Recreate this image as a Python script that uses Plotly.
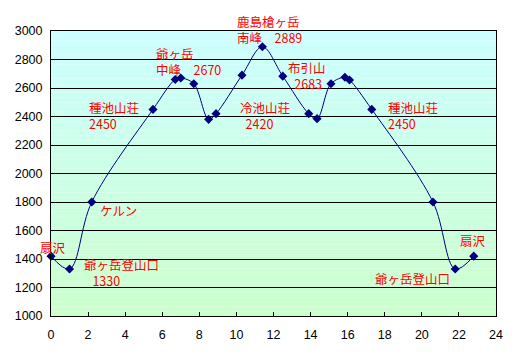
import plotly.graph_objects as go

# Distance and elevation (m)
dist = [0, 1.0, 2.2, 5.5, 6.7, 7.0, 7.7, 8.5, 8.9, 10.3, 11.4, 12.5, 13.9, 14.35,
        15.1, 15.85, 16.1, 17.3, 20.6, 21.8, 22.8]
elev = [1420, 1330, 1800, 2450, 2660, 2670, 2630, 2380, 2420, 2690, 2889, 2683,
        2420, 2385, 2630, 2675, 2656, 2450, 1800, 1330, 1420]

# Labels: (point index, text)
label_points = [0, 1, 2, 3, 5, 10, 8, 11, 17, 20, 19]
label_texts = ["扇沢", "爺ヶ岳登山口<br>\u00a0\u00a0\u00a01330", "ケルン", "種池山荘<br>2450",
               "爺ヶ岳<br>中峰　2670", "鹿島槍ヶ岳<br>南峰　2889",
               "冷池山荘<br>\u00a0\u00a02420", "布引山<br>\u00a02683", "種池山荘<br>2450",
               "扇沢", "爺ヶ岳登山口"]
# placement (style): anchor and pixel offset from point (right, down)
label_anchor = ["center", "left", "center", "left", "left", "left", "left", "center",
                "left", "center", "center"]
label_offsets = [(2, -8.7), (12, 3.2), (26.4, 8), (-66, 6.1), (-26.6, -16.6),
                 (-27.3, -17.6), (22, 1.8), (23.8, -0.7), (13.9, 6.1),
                 (-1, -15.5), (-42.3, 9.3)]

x_ticks = list(range(0, 25, 2))
y_ticks = list(range(1000, 3001, 200))

fig = go.Figure()

# vertical gradient background (cyan -> light green)
n = 60
top = (0xCC, 0xFF, 0xFF)
bot = (0xCC, 0xFF, 0xCC)
shapes = []
for i in range(n):
    t = (i + 0.5) / n
    c = tuple(round(bot[k] + (top[k] - bot[k]) * t) for k in range(3))
    shapes.append(dict(type="rect", xref="x domain", yref="y domain",
                       x0=0, x1=1, y0=i / n, y1=(i + 1) / n,
                       fillcolor="rgb(%d,%d,%d)" % c, line=dict(width=0), layer="below"))
fig.update_layout(shapes=shapes)

fig.add_trace(go.Scatter(
    x=dist, y=elev, mode="lines+markers",
    line=dict(color="#000080", width=1, shape="spline", smoothing=1),
    marker=dict(symbol="diamond", size=7, color="#000080"),
    cliponaxis=False, showlegend=False, hoverinfo="x+y"))

anns = []
for idx, txt, anc, (dx, dy) in zip(label_points, label_texts, label_anchor, label_offsets):
    anns.append(dict(x=dist[idx], y=elev[idx], xref="x", yref="y", text=txt,
                     showarrow=False, xanchor=anc, yanchor="middle", align=anc,
                     xshift=dx, yshift=-dy,
                     font=dict(family="Noto Sans CJK JP", size=12.5, color="#FF0000")))
fig.update_layout(annotations=anns)

fig.update_xaxes(range=[0, 24], tickvals=x_ticks, showgrid=False, zeroline=False,
                 showline=True, linecolor="black", linewidth=1, mirror=True,
                 ticks="inside", ticklen=4, tickcolor="black",
                 ticklabelstandoff=7, automargin=False,
                 tickfont=dict(family="Liberation Sans, Arial", size=12.5, color="black"))
fig.update_yaxes(range=[1000, 3000], tickvals=y_ticks, showgrid=True, gridcolor="black",
                 gridwidth=1, zeroline=False, showline=True, linecolor="black", linewidth=1,
                 mirror=True, ticks="", ticklabelstandoff=5, automargin=False,
                 tickfont=dict(family="Liberation Sans, Arial", size=12.5, color="black"))

fig.update_layout(width=522, height=352, margin=dict(l=43, r=34, t=23, b=44),
                  paper_bgcolor="white", plot_bgcolor="white")

fig.write_html("out.html")
